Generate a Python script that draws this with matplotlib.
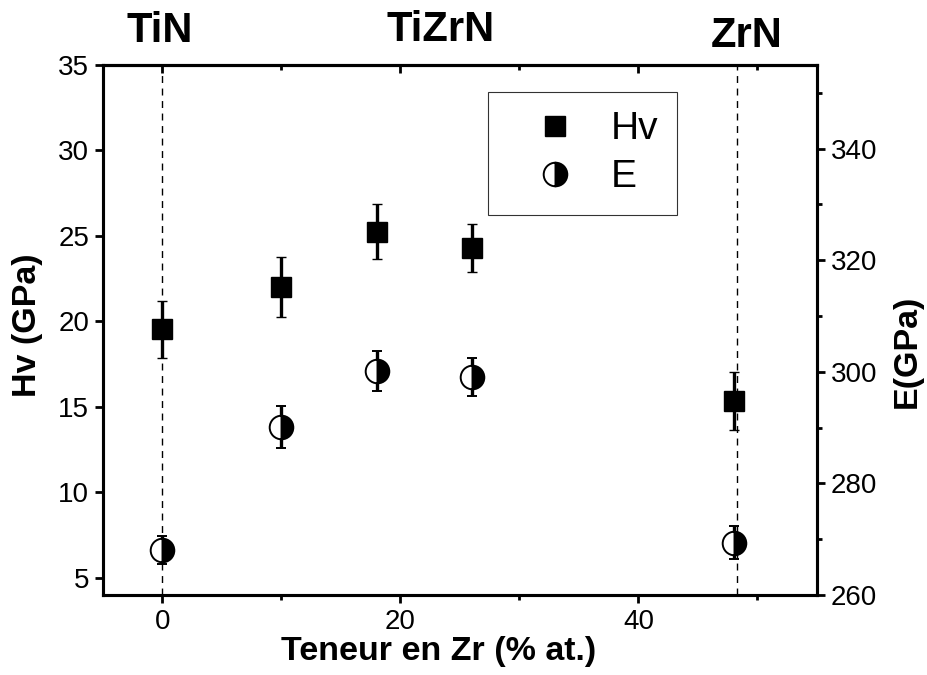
import matplotlib
matplotlib.use("Agg")
import matplotlib.pyplot as plt
from matplotlib.lines import Line2D
from matplotlib.ticker import MultipleLocator

plt.rcParams['font.family'] = ['Liberation Sans', 'DejaVu Sans']

# ---- data ----
zr_content = [0, 10, 18, 26, 48]
hv_values = [19.55, 22.0, 25.25, 24.3, 15.35]
hv_errors = [1.67, 1.75, 1.6, 1.4, 1.7]
e_values = [268.0, 290.1, 300.1, 299.1, 269.4]
e_errors = [2.5, 3.8, 3.6, 3.4, 3.0]
phase_lines = [0, 48.3]
phase_labels = ["TiN", "TiZrN", "ZrN"]
phase_label_x = [-0.2, 23.4, 49.1]
phase_label_y = [1.064, 1.066, 1.055]

fig = plt.figure(figsize=(9.27, 6.75), dpi=100)
ax = fig.add_axes([0.1111, 0.1185, 0.7702, 0.7852])
ax2 = ax.twinx()

for xv in phase_lines:
    ax.axvline(xv, color='black', lw=1.0, ls=(0, (5, 4)), zorder=0)

ax.errorbar(zr_content, hv_values, yerr=hv_errors, fmt='s', color='black',
            ms=15, mfc='black', mec='black', mew=1, ecolor='black',
            elinewidth=2.4, capsize=3.8, capthick=2.4, zorder=3)
ax2.errorbar(zr_content, e_values, yerr=e_errors, fmt='o', color='black',
             ms=17, mfc='black', mfcalt='white', fillstyle='right', mec='black', mew=1.4,
             ecolor='black', elinewidth=2.4, capsize=3.8, capthick=2.4, zorder=3)

ax.set_xlim(-5, 55)
ax.set_ylim(4, 35)
ax2.set_ylim(260, 355)

ax.xaxis.set_major_locator(MultipleLocator(20))
ax.xaxis.set_minor_locator(MultipleLocator(10))
ax.yaxis.set_major_locator(MultipleLocator(5))
ax2.yaxis.set_major_locator(MultipleLocator(20))
ax2.yaxis.set_minor_locator(MultipleLocator(10))

for a in (ax, ax2):
    for s in a.spines.values():
        s.set_linewidth(2.2)

ax.tick_params(axis='x', which='major', direction='out', length=6, width=2, labelsize=20, pad=4)
ax.tick_params(axis='x', which='minor', direction='out', length=3.5, width=2)
ax.tick_params(axis='y', which='major', direction='out', length=6, width=2, labelsize=20, pad=4)
ax.tick_params(axis='y', which='minor', left=False)
ax2.tick_params(axis='y', which='major', direction='out', length=6, width=2, labelsize=20, pad=4)
ax2.tick_params(axis='y', which='minor', direction='out', length=3.5, width=2)

top = ax.secondary_xaxis('top')
top.xaxis.set_major_locator(MultipleLocator(20))
top.xaxis.set_minor_locator(MultipleLocator(10))
top.tick_params(which='major', direction='in', length=6, width=2, labeltop=False)
top.tick_params(which='minor', direction='in', length=3.5, width=2)
top.spines['top'].set_linewidth(2.2)

ax.set_xlabel("Teneur en Zr (% at.)", fontsize=24.5, fontweight='bold')
ax.xaxis.set_label_coords(0.47, -0.077)
ax.set_ylabel("Hv (GPa)", fontsize=24.5, fontweight='bold')
ax.yaxis.set_label_coords(-0.084, 0.51)
ax2.set_ylabel("E(GPa)", fontsize=24.5, fontweight='bold')
ax2.yaxis.set_label_coords(1.105, 0.46)

for lab, xv, yv in zip(phase_labels, phase_label_x, phase_label_y):
    ax.text(xv, yv, lab, transform=ax.get_xaxis_transform(), ha='center', va='center',
            fontsize=30, fontweight='bold')

handles = [
    Line2D([], [], ls='none', marker='s', ms=15, mfc='black', mec='black', mew=1),
    Line2D([], [], ls='none', marker='o', ms=17, mfc='black', mfcalt='white',
           fillstyle='right', mec='black', mew=1.4),
]
leg = ax2.legend(handles, ["Hv", "E"], loc='upper left', bbox_to_anchor=(0.539, 0.949),
                 borderaxespad=0, fontsize=28, frameon=True, fancybox=False,
                 edgecolor='black', handlelength=2.45, handletextpad=0.2,
                 borderpad=0.5, labelspacing=0.3, numpoints=1)
leg.get_frame().set_linewidth(0.8)

fig.savefig("out.png", dpi=100)
